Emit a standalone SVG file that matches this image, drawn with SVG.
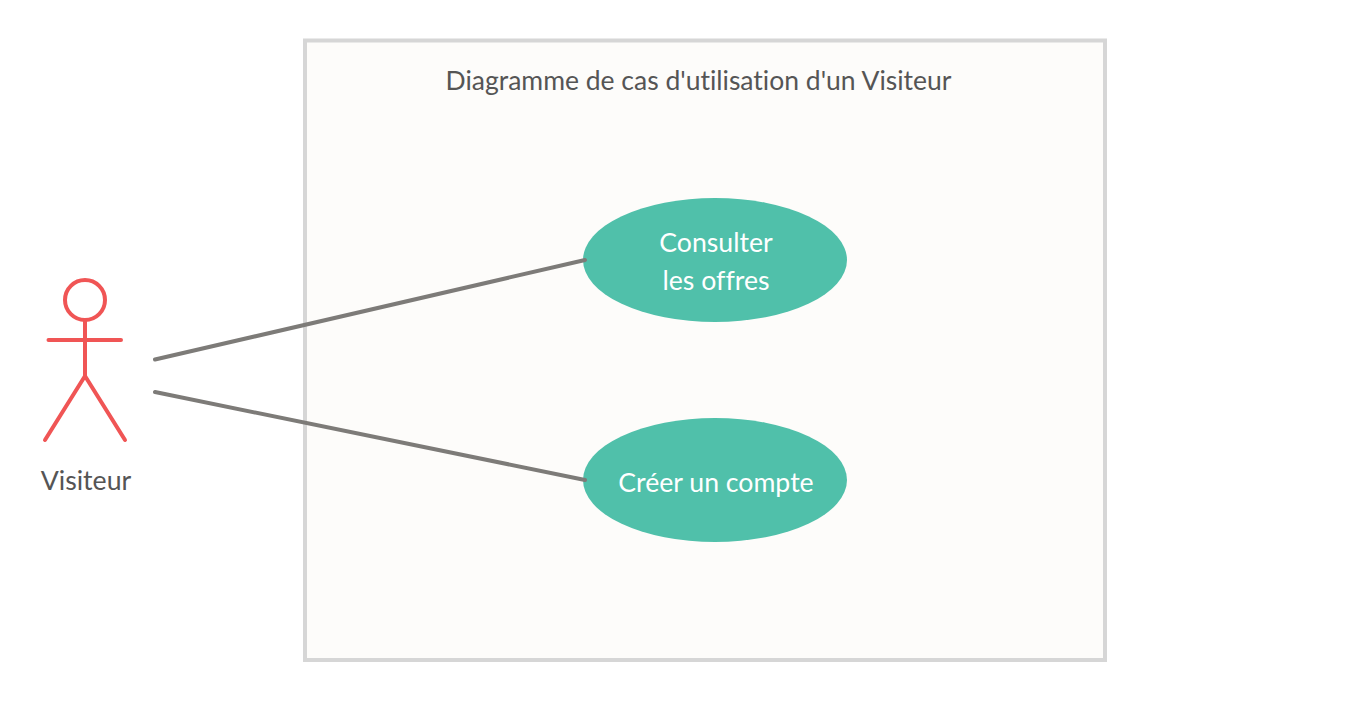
<svg xmlns="http://www.w3.org/2000/svg" width="1345" height="701" viewBox="0 0 1345 701">
<style>
text{font-family:Lato,"Liberation Sans",sans-serif;text-anchor:middle;font-variant-ligatures:none}
.uc{fill:#50c0aa}
.ut{fill:#fff;font-size:26.67px}
.dark{fill:#555;font-size:26.67px}
.act{fill:none;stroke:#f05555;stroke-width:4;stroke-linecap:round;stroke-linejoin:round}
.conn{fill:none;stroke:#7d7b78;stroke-width:4;stroke-linecap:round}
</style>
<rect width="1345" height="701" fill="#fff"/>
<g id="system"><rect x="305" y="40.500" width="800" height="619.500" fill="#fdfcfa" stroke="#d6d6d6" stroke-width="4"/>
<text class="dark" style="font-size:26.5px" x="698.500" y="89.500">Diagramme de cas d'utilisation d'un Visiteur</text></g>
<g id="actor"><circle class="act" cx="85" cy="300" r="20"/>
<path class="act" d="M85 320V376M48.500 340H121M45 440L85 376L125 440"/>
<text class="dark" x="86" y="489.500">Visiteur</text></g>
<g id="uc1"><ellipse class="uc" cx="715" cy="260" rx="132" ry="62"/>
<text class="ut" x="716" y="251.500">Consulter</text><text class="ut" x="716" y="289.500">les offres</text></g>
<g id="uc2"><ellipse class="uc" cx="715" cy="480" rx="132" ry="62"/>
<text class="ut" x="716" y="491.500">Créer un compte</text></g>
<g id="connectors">
<line class="conn" x1="155" y1="359.500" x2="585" y2="260"/>
<line class="conn" x1="155" y1="392" x2="585" y2="480"/>
</g>
</svg>
